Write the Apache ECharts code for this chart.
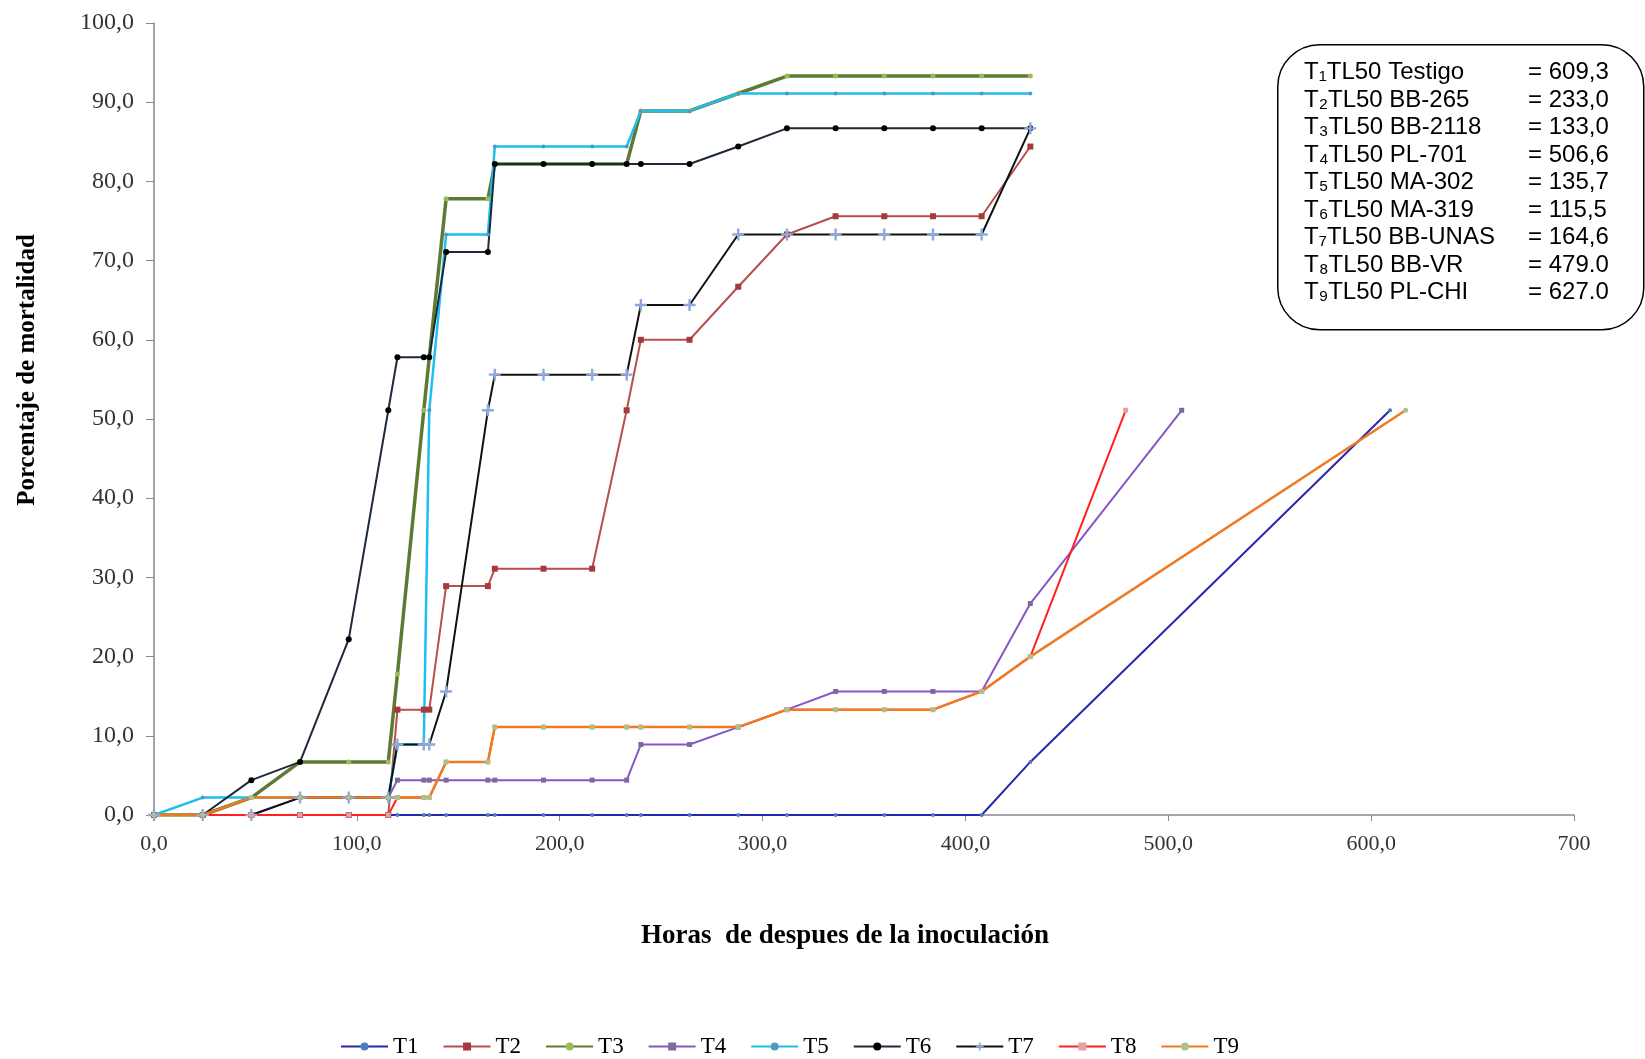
<!DOCTYPE html>
<html>
<head>
<meta charset="utf-8">
<script src="https://cdn.jsdelivr.net/npm/echarts@6/dist/echarts.min.js"></script>
<style>
html,body{margin:0;padding:0;background:#fff;}
#chart{width:1645px;height:1059px;}
</style>
</head>
<body>
<div id="chart"></div>
<script>
// Hours after inoculation (shared x values)
const hours = [0,24,48,72,96,115.5,120,133,135.7,144,164.6,168,192,216,233,240,264,288,312,336,360,384,408,432];
const T1 = [0,0,0,0,0,0,0,0,0,0,0,0,0,0,0,0,0,0,0,0,0,0,0,6.7];
const T2 = [0,0,0,0,0,0,13.3,13.3,13.3,28.9,28.9,31.1,31.1,31.1,51.1,60.0,60.0,66.7,73.3,75.6,75.6,75.6,75.6,84.4];
const T3 = [0,0,2.2,6.7,6.7,6.7,17.8,51.1,57.8,77.8,77.8,82.2,82.2,82.2,82.2,88.9,88.9,91.1,93.3,93.3,93.3,93.3,93.3,93.3];
const T4 = [0,0,0,2.2,2.2,2.2,4.4,4.4,4.4,4.4,4.4,4.4,4.4,4.4,4.4,8.9,8.9,11.1,13.3,15.6,15.6,15.6,15.6,26.7];
const T5 = [0,2.2,2.2,2.2,2.2,2.2,8.9,8.9,51.1,73.3,73.3,84.4,84.4,84.4,84.4,88.9,88.9,91.1,91.1,91.1,91.1,91.1,91.1,91.1];
const T6 = [0,0,4.4,6.7,22.2,51.1,57.8,57.8,57.8,71.1,71.1,82.2,82.2,82.2,82.2,82.2,82.2,84.4,86.7,86.7,86.7,86.7,86.7,86.7];
const T7 = [0,0,0,2.2,2.2,2.2,8.9,8.9,8.9,15.6,51.1,55.6,55.6,55.6,55.6,64.4,64.4,73.3,73.3,73.3,73.3,73.3,73.3,86.7];
const T8 = [0,0,0,0,0,0,2.2,2.2,2.2,6.7,6.7,11.1,11.1,11.1,11.1,11.1,11.1,11.1,13.3,13.3,13.3,13.3,15.6,20.0];
const T9 = [0,0,2.2,2.2,2.2,2.2,2.2,2.2,2.2,6.7,6.7,11.1,11.1,11.1,11.1,11.1,11.1,11.1,13.3,13.3,13.3,13.3,15.6,20.0];
// Extra final (TL50) points for series that extend beyond 432 h
const endHours = {T1: 609.3, T4: 506.6, T8: 479.0, T9: 617.0};
const endValue = 51.1;
const seriesNames = ['T1','T2','T3','T4','T5','T6','T7','T8','T9'];
const seriesValues = [T1,T2,T3,T4,T5,T6,T7,T8,T9];
// Annotation box text
const boxLabels = ['T\u2081TL50 Testigo','T\u2082TL50 BB-265','T\u2083TL50 BB-2118','T\u2084TL50 PL-701','T\u2085TL50 MA-302','T\u2086TL50 MA-319','T\u2087TL50 BB-UNAS','T\u2088TL50 BB-VR','T\u2089TL50 PL-CHI'];
const boxValues = ['= 609,3','= 233,0','= 133,0','= 506,6','= 135,7','= 115,5','= 164,6','= 479.0','= 627.0'];

const styles = {
  T1: {line:'#2727B0', w:2, sym:'circle', size:4, mc:'#4A7EBB'},
  T2: {line:'#B5504C', w:2, sym:'rect', size:6, mc:'#A63A3A'},
  T3: {line:'#5E7A32', w:3.5, sym:'circle', size:5, mc:'#9BBB59'},
  T4: {line:'#8856C6', w:2, sym:'rect', size:5, mc:'#7B6A9E'},
  T5: {line:'#1EBEEE', w:2.5, sym:'circle', size:4, mc:'#4B9CC0'},
  T6: {line:'#1C2A3A', w:2, sym:'circle', size:6, mc:'#000000'},
  T7: {line:'#111111', w:2, sym:'path://M4,0H6V4H10V6H6V10H4V6H0V4H4Z', size:12, mc:'#8EA9DB'},
  T8: {line:'#FF2020', w:2, sym:'rect', size:5, mc:'#E4A2A2'},
  T9: {line:'#F07A22', w:2.5, sym:'circle', size:5, mc:'#A8C38A'}
};

const series = seriesNames.map((name, i) => {
  const data = hours.map((h, j) => [h, seriesValues[i][j]]);
  if (endHours[name] !== undefined) data.push([endHours[name], endValue]);
  const s = styles[name];
  return {
    name: name,
    type: 'line',
    data: data,
    symbol: s.sym,
    symbolSize: s.size,
    showAllSymbol: true,
    animation: false,
    lineStyle: {color: s.line, width: s.w},
    itemStyle: {color: s.mc, borderWidth: 0},
    emphasis: {disabled: true}
  };
});

const graphics = [
  {type:'rect', left:1277, top:44, shape:{width:366, height:285, r:42}, style:{fill:'#fff', stroke:'#000', lineWidth:1.5}, z:10},
  {type:'text', rotation:Math.PI/2, position:[28,370], style:{text:'Porcentaje de mortalidad', font:'bold 25px "Liberation Serif", serif', fill:'#000', textAlign:'center', textVerticalAlign:'middle'}, z:10},
  {type:'text', position:[845,936], style:{text:'Horas  de despues de la inoculación', font:'bold 27px "Liberation Serif", serif', fill:'#000', textAlign:'center', textVerticalAlign:'middle'}, z:10}
];
boxLabels.forEach((t, i) => {
  graphics.push({type:'text', position:[1304, 72.5 + i*27.5], style:{text:t, font:'24px "Liberation Sans", Arial, sans-serif', fill:'#000', textVerticalAlign:'middle'}, z:11});
  graphics.push({type:'text', position:[1528, 72.5 + i*27.5], style:{text:boxValues[i], font:'24px "Liberation Sans", Arial, sans-serif', fill:'#000', textVerticalAlign:'middle'}, z:11});
});

const chart = echarts.init(document.getElementById('chart'), null, {renderer:'canvas'});
chart.setOption({
  backgroundColor:'#fff',
  animation:false,
  grid:{left:154, right:71, top:23, bottom:244, containLabel:false},
  xAxis:{
    type:'value', min:0, max:700, interval:100,
    axisLine:{show:true, onZero:false, lineStyle:{color:'#8a8a8a', width:1.5}},
    axisTick:{show:true, length:6, lineStyle:{color:'#8a8a8a'}},
    splitLine:{show:false},
    axisLabel:{margin:18, color:'#333', fontFamily:'"Liberation Serif", serif', fontSize:22,
      formatter: v => v === 700 ? '700' : v.toFixed(1).replace('.', ',')}
  },
  yAxis:{
    type:'value', min:0, max:100, interval:10,
    axisLine:{show:true, lineStyle:{color:'#8a8a8a', width:1.5}},
    axisTick:{show:true, length:8, lineStyle:{color:'#8a8a8a'}},
    splitLine:{show:false},
    axisLabel:{margin:20, color:'#333', fontFamily:'"Liberation Serif", serif', fontSize:24,
      formatter: v => v.toFixed(1).replace('.', ',')}
  },
  legend:{
    data: seriesNames,
    left:335, top:1030,
    itemWidth:47, itemHeight:10, itemGap:24,
    textStyle:{fontFamily:'"Liberation Serif", serif', fontSize:23, color:'#000'}
  },
  graphic: graphics,
  series: series
});
</script>
</body>
</html>
